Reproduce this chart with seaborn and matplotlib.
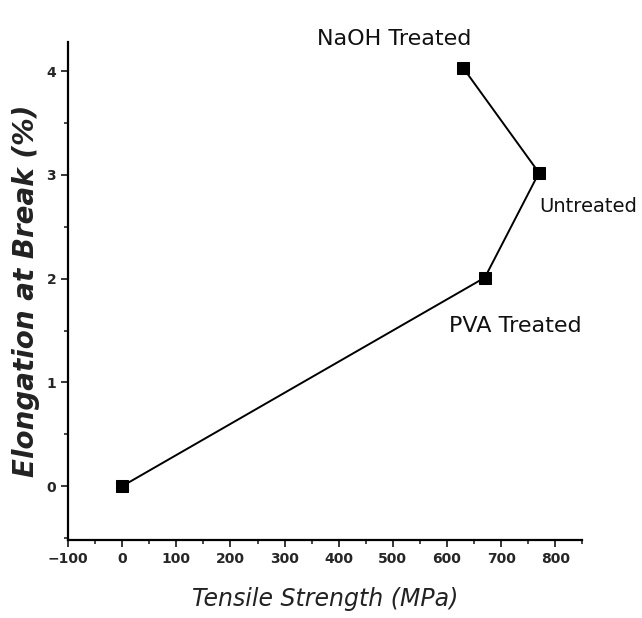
import matplotlib
matplotlib.use("Agg")
import matplotlib.pyplot as plt
import pandas as pd
import seaborn as sns
from matplotlib.ticker import MultipleLocator

# values
treatments = ["Control", "PVA Treated", "Untreated", "NaOH Treated"]
tensile_strength = [0, 670, 770, 630]
elongation = [0, 2.01, 3.02, 4.03]

df = pd.DataFrame({"treatment": treatments,
                   "tensile": tensile_strength,
                   "elongation": elongation})

sns.set_theme(style="ticks")
plt.rcParams["font.family"] = ["DejaVu Sans"]

fig = plt.figure(figsize=(6.42, 6.18), dpi=100)
ax = fig.add_axes([0.106, 0.126, 0.801, 0.806])

sns.lineplot(data=df, x="tensile", y="elongation", sort=False, color="black",
             linewidth=1.4, marker="s", markersize=9, markeredgecolor="black",
             markerfacecolor="black", ax=ax)

ax.set_xlim(-100, 850)
ax.set_ylim(-0.52, 4.28)
ax.xaxis.set_major_locator(MultipleLocator(100))
ax.xaxis.set_minor_locator(MultipleLocator(50))
ax.yaxis.set_major_locator(MultipleLocator(1))
ax.yaxis.set_minor_locator(MultipleLocator(0.5))
ax.tick_params(which="major", direction="out", length=5, width=1.3, labelsize=10)
ax.tick_params(which="minor", direction="out", length=3, width=1.2)
for lab in ax.get_xticklabels() + ax.get_yticklabels():
    lab.set_fontweight("bold")

sns.despine(ax=ax)
for side in ["left", "bottom"]:
    ax.spines[side].set_linewidth(1.6)
    ax.spines[side].set_color("black")

ax.set_xlabel("Tensile Strength (MPa)", fontsize=17, fontstyle="italic",
              color="#222222", labelpad=15)
ax.set_ylabel("Elongation at Break (%)", fontsize=20, fontstyle="italic",
              fontweight="bold", color="#222222", labelpad=5)

# annotations next to the treated points (offsets in points)
offsets = {"NaOH Treated": (-50, 21, "center", 16),
           "Untreated": (0, -24, "left", 14),
           "PVA Treated": (-26, -35, "left", 16)}
for _, row in df.iterrows():
    if row["treatment"] in offsets:
        dx, dy, ha, size = offsets[row["treatment"]]
        ax.annotate(row["treatment"], (row["tensile"], row["elongation"]),
                    xytext=(dx, dy), textcoords="offset points",
                    fontsize=size, color="#111111", ha=ha, va="center")

fig.savefig("out.png", dpi=100, facecolor="white")
